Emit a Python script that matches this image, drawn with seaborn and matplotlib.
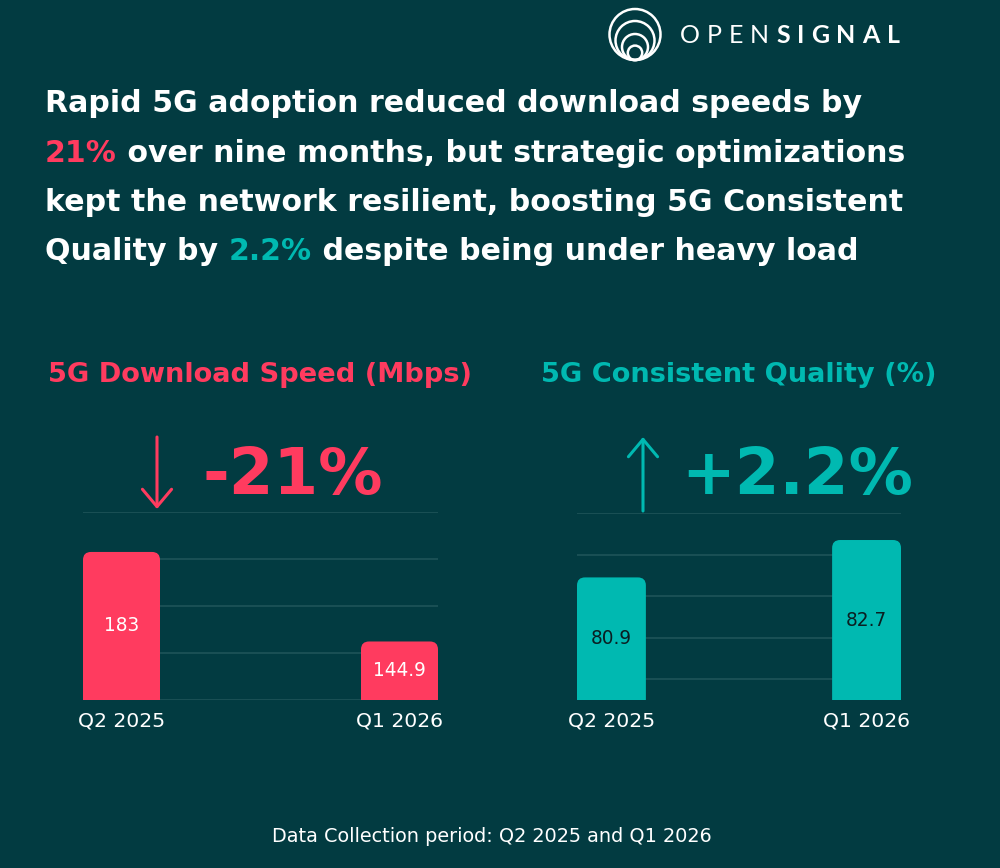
import pandas as pd
import seaborn as sns
import matplotlib.pyplot as plt
from matplotlib.patches import FancyBboxPatch, Circle

BG = '#023b41'
PINK = '#ff3b5f'
TEAL = '#00b9b1'
GRID = '#1c5257'
WHITE = '#ffffff'
W, H = 1000, 868

# data
periods = ['Q2 2025', 'Q1 2026']
download_speed = [183, 144.9]
speed_labels = ['183', '144.9']
consistent_quality = [80.9, 82.7]
quality_labels = ['80.9', '82.7']
speed_change = '-21%'
quality_change = '+2.2%'

title_lines = [
    [('Rapid 5G adoption reduced download speeds by', WHITE)],
    [('21%', PINK), (' over nine months, but strategic optimizations', WHITE)],
    [('kept the network resilient, boosting 5G Consistent', WHITE)],
    [('Quality by ', WHITE), ('2.2%', TEAL), (' despite being under heavy load', WHITE)],
]
footer = 'Data Collection period: Q2 2025 and Q1 2026'

sns.set_style('white')
plt.rcParams['font.family'] = ['DejaVu Sans']

fig = plt.figure(figsize=(10, 8.68), dpi=100, facecolor=BG)
renderer = fig.canvas.get_renderer()


def text_width(s, **kw):
    # width in px, keeps trailing/leading spaces by padding with a bar
    t = fig.text(0, 0, s + '|', **kw)
    t2 = fig.text(0, 0, '|', **kw)
    w = t.get_window_extent(renderer).width - t2.get_window_extent(renderer).width
    t.remove()
    t2.remove()
    return w


def fit_size(s, target_px, **kw):
    return 20 * target_px / text_width(s, fontsize=20, **kw)


def round_tops(ax, radius_px=8):
    x0, x1 = ax.get_xlim()
    y0, y1 = ax.get_ylim()
    bb = ax.get_window_extent(renderer)
    ux = (x1 - x0) / bb.width
    uy = (y1 - y0) / bb.height
    for p in list(ax.patches):
        p.set_visible(False)
        fb = FancyBboxPatch((p.get_x(), p.get_y()), p.get_width(), p.get_height(),
                            boxstyle=f'round,pad=0,rounding_size={radius_px * ux}',
                            mutation_aspect=uy / ux, facecolor=p.get_facecolor(),
                            edgecolor='none', zorder=3)
        ax.add_patch(fb)


tick_size = fit_size('Q2 2025', 87)
value_size = fit_size('144.9', 53)


def bar_panel(rect, values, labels, color, width, ylim, yticks, label_color):
    ax = fig.add_axes([rect[0] / W, 1 - rect[3] / H, (rect[2] - rect[0]) / W, (rect[3] - rect[1]) / H])
    df = pd.DataFrame({'period': periods, 'value': values})
    sns.barplot(data=df, x='period', y='value', ax=ax, color=color, width=width,
                saturation=1, zorder=3)
    ax.set_xlim(-width / 2, 1 + width / 2)
    ax.set_ylim(*ylim)
    ax.set_yticks(yticks)
    ax.set_facecolor('none')
    ax.grid(axis='y', color=GRID, lw=1.3)
    ax.grid(axis='x', visible=False)
    ax.set_axisbelow(True)
    for s in ax.spines.values():
        s.set_visible(False)
    ax.tick_params(axis='y', labelleft=False, length=0)
    ax.tick_params(axis='x', length=0, pad=8, labelsize=tick_size, labelcolor=WHITE)
    ax.set_xlabel('')
    ax.set_ylabel('')
    round_tops(ax)
    for i, (v, lab) in enumerate(zip(values, labels)):
        ax.text(i, (ylim[0] + v) / 2, lab, ha='center', va='center', fontsize=value_size,
                color=label_color, zorder=4)
    return ax


bar_panel((83, 512, 438, 700), download_speed, speed_labels, PINK, 0.277,
          (120, 200), [120, 140, 160, 180, 200], WHITE)
bar_panel((577, 513, 901, 700), consistent_quality, quality_labels, TEAL, 0.27,
          (75, 84), [76, 78, 80, 82, 84], '#0a1f22')

# overlay in pixel coordinates for the text and decorations
deco = fig.add_axes([0, 0, 1, 1], zorder=5)
deco.set_xlim(0, W)
deco.set_ylim(H, 0)
deco.axis('off')
deco.set_facecolor('none')

# title with coloured words, sized so the four lines together match the original widths
full_lines = [''.join(seg for seg, _ in line) for line in title_lines]
measured = sum(text_width(s, fontsize=20, weight='bold') for s in full_lines)
title_kw = dict(fontsize=20 * (848 + 840 + 839 + 823) / measured, weight='bold')
baselines = [112, 162, 211, 260]
for line, yb in zip(title_lines, baselines):
    x = 45
    for seg, col in line:
        deco.text(x, yb, seg, color=col, ha='left', va='baseline', **title_kw)
        x += text_width(seg, **title_kw)

# panel headings
head_size = fit_size('5G Download Speed (Mbps)', 425, weight='bold')
deco.text(260, 382, '5G Download Speed (Mbps)', color=PINK, fontsize=head_size,
          weight='bold', ha='center', va='baseline')
deco.text(739, 382, '5G Consistent Quality (%)', color=TEAL, fontsize=head_size,
          weight='bold', ha='center', va='baseline')

# big change numbers with arrows
big_size = fit_size(speed_change, 180, weight='bold')
deco.text(293, 494, speed_change, color=PINK, fontsize=big_size, weight='bold',
          ha='center', va='baseline')
deco.text(797, 494, quality_change, color=TEAL, fontsize=big_size, weight='bold',
          ha='center', va='baseline')
deco.annotate('', xy=(157, 509), xytext=(157, 437),
              arrowprops=dict(arrowstyle='->,head_length=1.25,head_width=1.05',
                              color=PINK, lw=2.2, shrinkA=0, shrinkB=0))
deco.annotate('', xy=(643, 437), xytext=(643, 511),
              arrowprops=dict(arrowstyle='->,head_length=1.25,head_width=1.05',
                              color=TEAL, lw=2.2, shrinkA=0, shrinkB=0))

# footer
deco.text(492, 836, footer, color=WHITE, fontsize=fit_size(footer, 441),
          ha='center', va='center')

# logo
for r in [25.5, 19.5, 13, 7.2]:
    deco.add_patch(Circle((635, 60 - r), r, fill=False, ec=WHITE, lw=1.8))
logo_letters = [(c, 'normal') for c in 'OPEN'] + [(c, 'bold') for c in 'SIGNAL']
widths = [text_width(c, fontsize=18, weight=wgt, family='Lato') for c, wgt in logo_letters]
gap = (220 - sum(widths)) / (len(widths) - 1)
x = 680
for (c, wgt), w in zip(logo_letters, widths):
    deco.text(x, 43, c, color=WHITE, fontsize=18, weight=wgt, family='Lato',
              ha='left', va='baseline')
    x += w + gap

fig.savefig('out.png', dpi=100, facecolor=BG)
